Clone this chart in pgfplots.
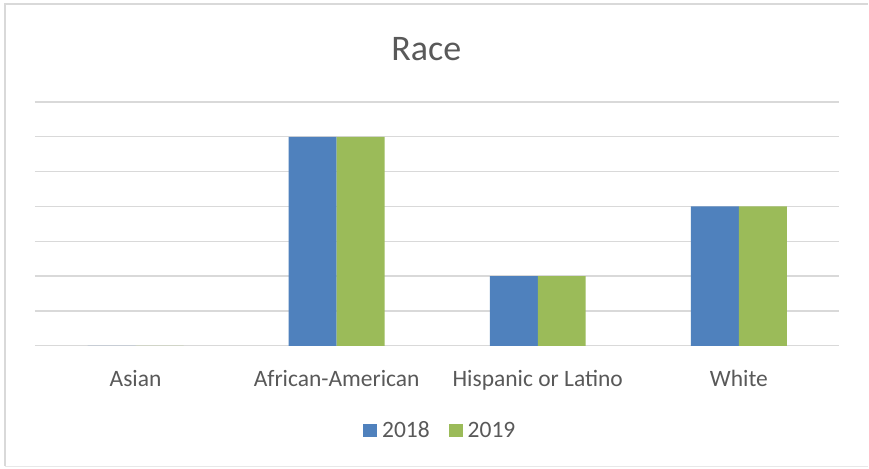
\documentclass[border=0pt]{standalone}
\usepackage{fontspec}
\setmainfont{Carlito}
\usepackage{pgfplots}
\pgfplotsset{compat=1.18}
\definecolor{cblue}{HTML}{4F81BD}
\definecolor{cgreen}{HTML}{9BBB59}
\definecolor{cgrid}{HTML}{D9D9D9}
\definecolor{ctext}{HTML}{595959}
\begin{document}
\begin{tikzpicture}
\path[fill=white] (-35pt,-123pt) rectangle (834pt,346pt);
\draw[cgrid, line width=1.2pt] (-30pt,-120pt) -- (-30pt,342pt) -- (834pt,342pt);
\draw[cgrid!60, line width=0.8pt] (-30pt,-121pt) -- (834pt,-121pt);
\begin{axis}[
  scale only axis,
  width=805pt, height=244pt,
  xmin=-0.5, xmax=3.5, ymin=0, ymax=7,
  ybar=0pt, bar width=48pt,
  axis line style={draw=none},
  ytick={0,1,...,7}, yticklabels={},
  ymajorgrids, grid style={cgrid, line width=1.4pt},
  major tick length=0pt,
  xtick={0,1,2,3},
  xticklabels={Asian,African-American,Hispanic or Latino,White},
  xticklabel style={font=\fontsize{23.5}{28}\selectfont, text=ctext, anchor=base, yshift=-41pt},
  legend style={at={(0.5056,-0.348)}, anchor=center, draw=none, fill=none,
    legend columns=2, font=\fontsize{23.5}{28}\selectfont, text=ctext,
    /tikz/every even column/.append style={column sep=14pt},
    nodes={inner xsep=5pt, inner ysep=3pt}},
  legend image code/.code={\fill[#1] (0pt,-6.5pt) rectangle (14pt,6.5pt);},
]
\addplot[fill=cblue, draw=none] coordinates {(0,0) (1,6) (2,2) (3,4)};
\addplot[fill=cgreen, draw=none] coordinates {(0,0) (1,6) (2,2) (3,4)};
\legend{2018,2019}
\end{axis}
\node[anchor=base, font=\fontsize{36}{42}\selectfont, text=ctext] at (391.5pt,285pt) {Race};
\end{tikzpicture}
\end{document}
